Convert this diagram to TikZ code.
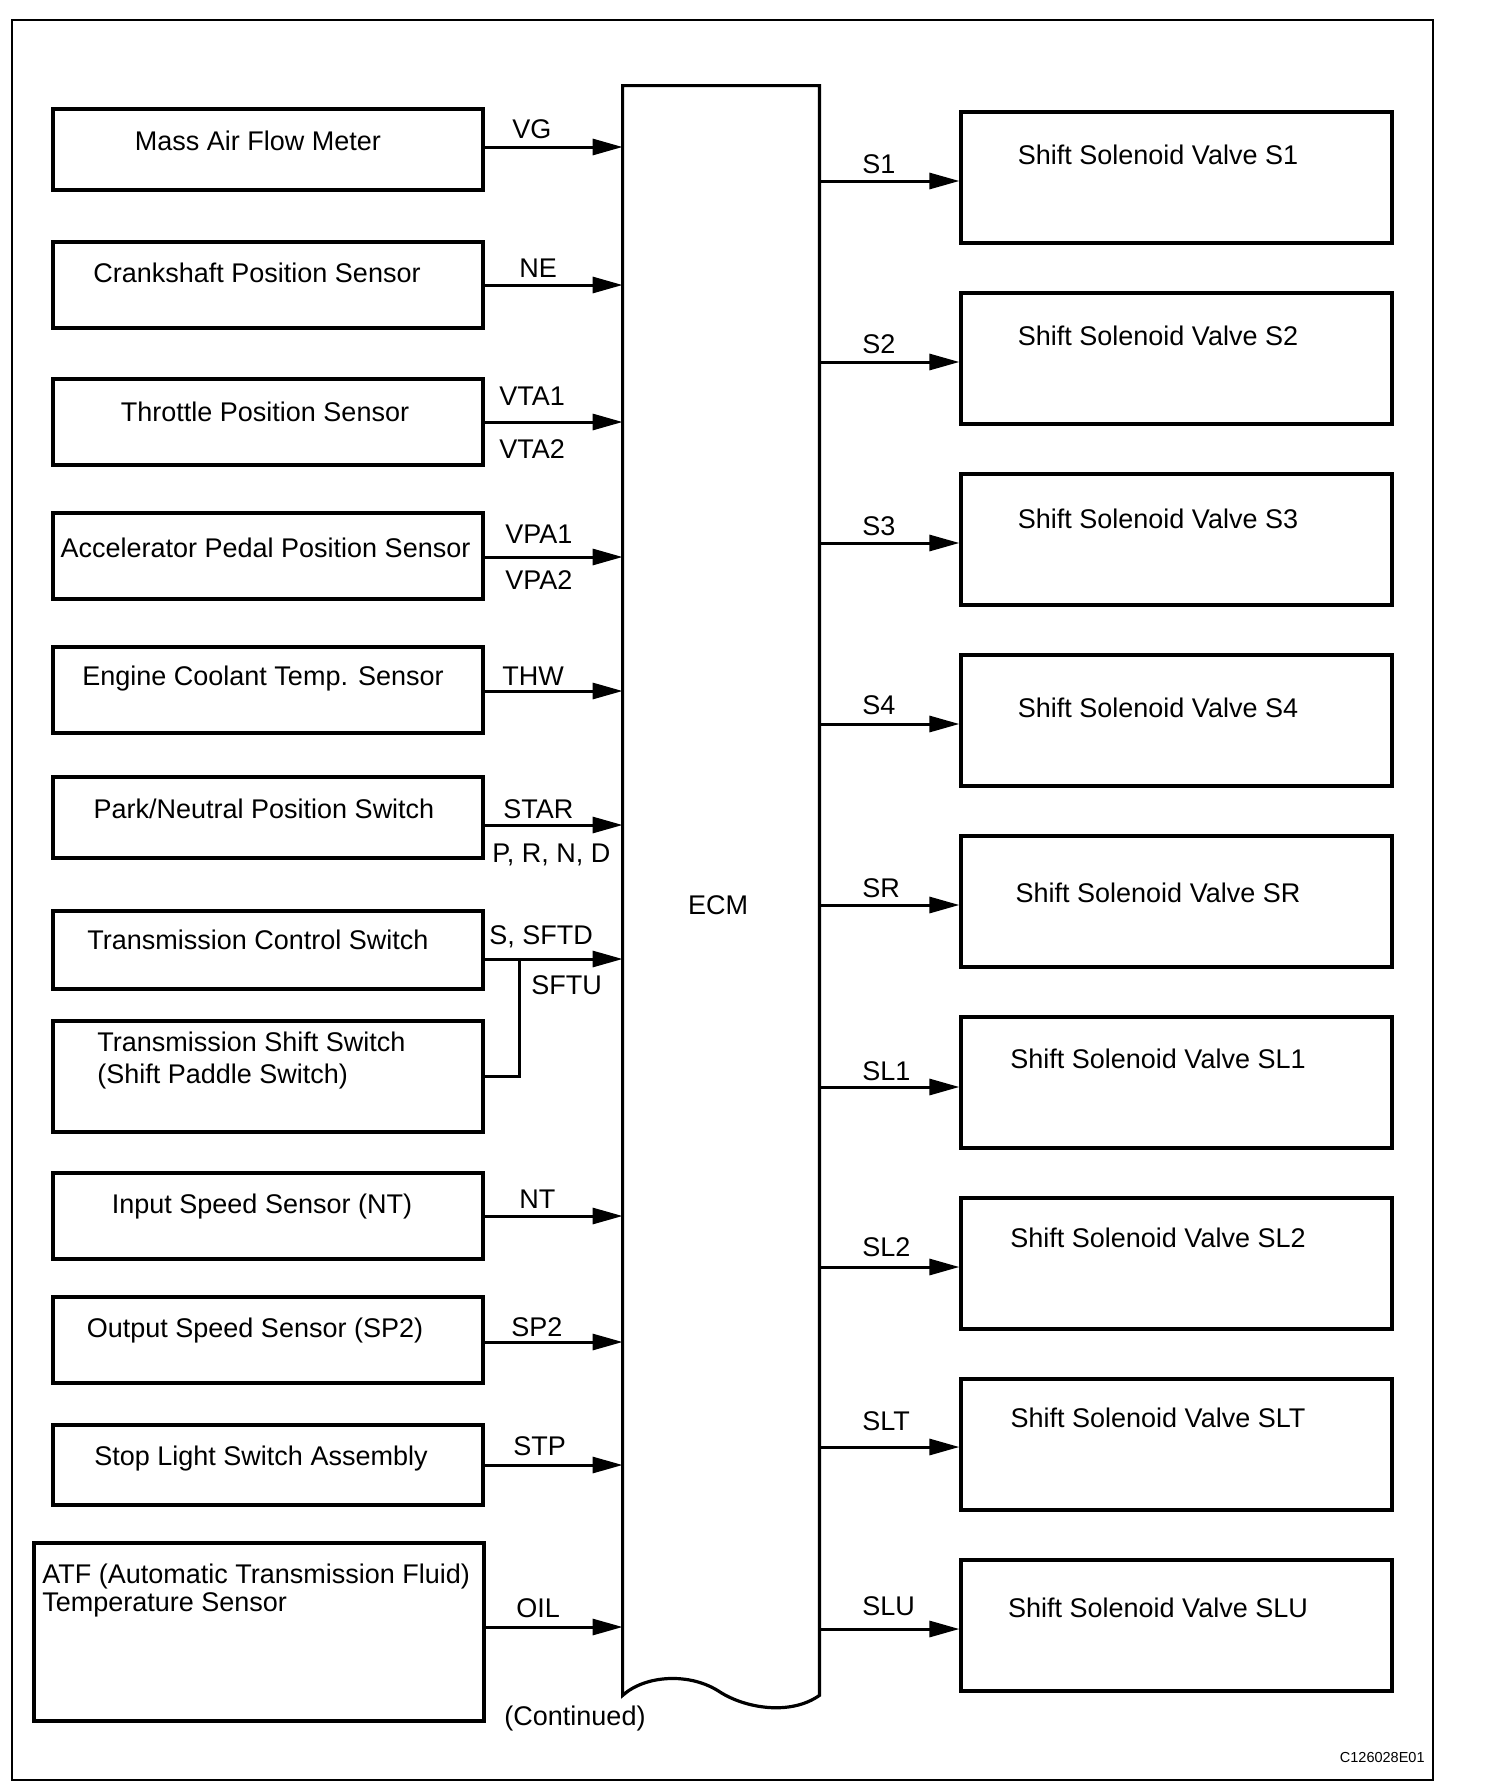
\documentclass[tikz,border=0pt]{standalone}
\usepackage{fontspec}
\setmainfont{Liberation Sans}
\usetikzlibrary{arrows.meta}
\begin{document}
\begin{tikzpicture}[x=0.5pt,y=-0.5pt] % 1 unit = 1 pixel of the drawing
\tikzstyle{box} = [draw, line width=1.6pt, inner sep=0pt, minimum width=215pt] % sensor box
\tikzstyle{vbox} = [box, minimum width=215.5pt, minimum height=65.5pt] % valve box
\tikzstyle{txt} = [inner sep=0pt, anchor=base, font=\fontsize{13.5pt}{15pt}\selectfont] % box text
\tikzstyle{sig} = [txt, anchor=base west] % signal name
\tikzstyle{wire} = [line width=1.5pt]
\tikzstyle{arr} = [wire, -{Triangle[length=15pt,width=8pt]}]

\useasboundingbox (0,0) rectangle (1504,1788);
\draw[line width=1.4pt] (12,20) rectangle (1433,1780); % рамка

% ECM
\node[inner sep=0pt, minimum width=98pt, minimum height=804.5pt] (ecm) at (721,890.5) {};
\draw[line width=1.6pt] (ecm.south west) -- (ecm.north west) -- (ecm.north east) -- (ecm.south east)
    .. controls (790,1716) and (745,1708) .. (720,1692)
    .. controls (690,1672) and (645,1675) .. (ecm.south west) -- cycle;
\node[txt] at (718,914) {ECM};
\node[txt] at (575,1725) {(Continued)};

% датчики слева
\node[box, minimum height=40.5pt] (maf) at (268,149.5) {};
\node[txt] at (258,150) {Mass Air Flow Meter};
\node[sig] at (512,138) {VG};
\draw[arr] (maf.east |- 0,147) -- (ecm.west |- 0,147);

\node[box, minimum height=43pt] (ckp) at (268,285) {};
\node[txt] at (257,282) {Crankshaft Position Sensor};
\node[sig] at (519,277) {NE};
\draw[arr] (ckp.east |- 0,285) -- (ecm.west |- 0,285);

\node[box, minimum height=43pt] (tps) at (268,422) {};
\node[txt] at (265,421) {Throttle Position Sensor};
\node[sig] at (499,405) {VTA1};
\node[sig] at (499,458) {VTA2};
\draw[arr] (tps.east |- 0,422) -- (ecm.west |- 0,422);

\node[box, minimum height=43pt] (apps) at (268,556) {};
\node[txt] at (265.5,557) {Accelerator Pedal Position Sensor};
\node[sig] at (505,543) {VPA1};
\node[sig] at (505,589) {VPA2};
\draw[arr] (apps.east |- 0,557) -- (ecm.west |- 0,557);

\node[box, minimum height=43pt] (ect) at (268,690) {};
\node[txt] at (263,685) {Engine Coolant Temp. Sensor};
\node[sig] at (502,685) {THW};
\draw[arr] (ect.east |- 0,691) -- (ecm.west |- 0,691);

\node[box, minimum height=40.5pt] (pnp) at (268,817.5) {};
\node[txt] at (264,818) {Park/Neutral Position Switch};
\node[sig] at (503,818) {STAR};
\node[sig] at (492,862) {P, R, N, D};
\draw[arr] (pnp.east |- 0,825) -- (ecm.west |- 0,825);

\node[box, minimum height=39pt] (tcs) at (268,950) {};
\node[txt] at (258,949) {Transmission Control Switch};
\node[sig] at (489,944) {S, SFTD};
\node[sig] at (531,994) {SFTU};
\coordinate (jn) at (519,959);
\draw[arr] (tcs.east |- jn) -- (ecm.west |- jn);

\node[box, minimum height=55.5pt] (tss) at (268,1076.5) {};
\node[sig] at (97,1051) {Transmission Shift Switch};
\node[sig] at (97,1083) {(Shift Paddle Switch)};
\draw[wire] (tss.east) -| (jn);

\node[box, minimum height=43pt] (isp) at (268,1216) {};
\node[txt] at (262,1213) {Input Speed Sensor (NT)};
\node[sig] at (519,1208) {NT};
\draw[arr] (isp.east |- 0,1216) -- (ecm.west |- 0,1216);

\node[box, minimum height=43pt] (osp) at (268,1340) {};
\node[txt] at (255,1337) {Output Speed Sensor (SP2)};
\node[sig] at (511,1336) {SP2};
\draw[arr] (osp.east |- 0,1342) -- (ecm.west |- 0,1342);

\node[box, minimum height=40pt] (stp) at (268,1465) {};
\node[txt] at (261,1465) {Stop Light Switch Assembly};
\node[sig] at (513,1455) {STP};
\draw[arr] (stp.east |- 0,1465) -- (ecm.west |- 0,1465);

\node[box, minimum width=225pt, minimum height=89pt] (atf) at (259,1632) {};
\node[sig] at (42,1583) {ATF (Automatic Transmission Fluid)};
\node[sig] at (42,1611) {Temperature Sensor};
\node[sig] at (516,1617) {OIL};
\draw[arr] (atf.east |- 0,1627) -- (ecm.west |- 0,1627);

% клапаны справа
\node[vbox] (s1) at (1176.5,177.5) {};
\node[txt] at (1158,164) {Shift Solenoid Valve S1};
\node[sig] at (862,173) {S1};
\draw[arr] (ecm.east |- 0,181) -- (s1.west |- 0,181);

\node[vbox] (s2) at (1176.5,358.5) {};
\node[txt] at (1158,345) {Shift Solenoid Valve S2};
\node[sig] at (862,353) {S2};
\draw[arr] (ecm.east |- 0,362) -- (s2.west |- 0,362);

\node[vbox] (s3) at (1176.5,539.5) {};
\node[txt] at (1158,528) {Shift Solenoid Valve S3};
\node[sig] at (862,535) {S3};
\draw[arr] (ecm.east |- 0,543) -- (s3.west |- 0,543);

\node[vbox] (s4) at (1176.5,720.5) {};
\node[txt] at (1158,717) {Shift Solenoid Valve S4};
\node[sig] at (862,714) {S4};
\draw[arr] (ecm.east |- 0,724) -- (s4.west |- 0,724);

\node[vbox] (sr) at (1176.5,901.5) {};
\node[txt] at (1158,902) {Shift Solenoid Valve SR};
\node[sig] at (862,897) {SR};
\draw[arr] (ecm.east |- 0,905) -- (sr.west |- 0,905);

\node[vbox] (sl1) at (1176.5,1082.5) {};
\node[txt] at (1158,1068) {Shift Solenoid Valve SL1};
\node[sig] at (862,1080) {SL1};
\draw[arr] (ecm.east |- 0,1087) -- (sl1.west |- 0,1087);

\node[vbox] (sl2) at (1176.5,1263.5) {};
\node[txt] at (1158,1247) {Shift Solenoid Valve SL2};
\node[sig] at (862,1256) {SL2};
\draw[arr] (ecm.east |- 0,1267) -- (sl2.west |- 0,1267);

\node[vbox] (slt) at (1176.5,1444.5) {};
\node[txt] at (1158,1427) {Shift Solenoid Valve SLT};
\node[sig] at (862,1430) {SLT};
\draw[arr] (ecm.east |- 0,1447) -- (slt.west |- 0,1447);

\node[vbox] (slu) at (1176.5,1625.5) {};
\node[txt] at (1158,1617) {Shift Solenoid Valve SLU};
\node[sig] at (862,1615) {SLU};
\draw[arr] (ecm.east |- 0,1629) -- (slu.west |- 0,1629);

\node[inner sep=0pt, anchor=base east, font=\fontsize{7.25pt}{8pt}\selectfont] at (1425,1762) {C126028E01};
\end{tikzpicture}
\end{document}
